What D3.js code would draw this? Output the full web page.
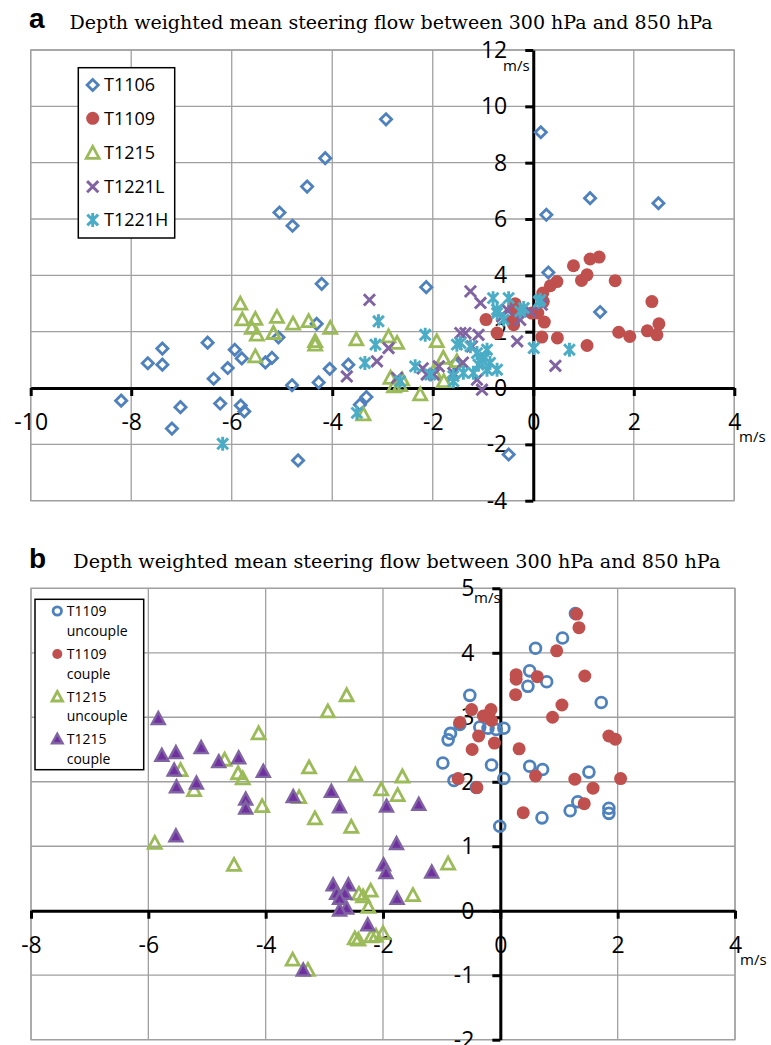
<!DOCTYPE html>
<html><head><meta charset="utf-8">
<script src="https://cdn.jsdelivr.net/npm/d3@7"></script>
<style>body{margin:0;background:#fff}svg{display:block}</style>
</head><body>
<svg id="chart" width="771" height="1045"></svg>
<script>
// ---- Panel a: steering flow (u, v) in m/s ----
const t1106 = [[-2.93,9.54],[-4.14,8.16],[-4.50,7.15],[-5.05,6.23],[-4.79,5.76],[0.15,9.08],[0.26,6.15],[1.13,6.74],[2.49,6.56],[0.30,4.10],[1.33,2.70],[-2.13,3.58],[-4.21,3.70],[-7.38,1.40],[-7.67,0.88],[-7.38,0.83],[-6.48,1.61],[-5.94,1.36],[-5.80,1.05],[-6.08,0.71],[-6.36,0.33],[-5.07,1.80],[-5.33,0.91],[-5.20,1.07],[-4.80,0.10],[-8.20,-0.45],[-7.02,-0.68],[-7.19,-1.44],[-6.23,-0.55],[-5.82,-0.62],[-5.75,-0.83],[-4.68,-2.57],[-4.31,2.28],[-4.05,0.68],[-4.27,0.20],[-3.68,0.83],[-3.32,-0.32],[-3.45,-0.59],[-0.49,-2.36],[-1.55,0.85]];
const t1109 = [[0.80,4.34],[1.13,4.58],[1.31,4.65],[1.07,4.02],[0.96,3.82],[1.63,3.81],[0.47,3.78],[0.34,3.63],[0.19,3.37],[2.36,3.07],[2.50,2.28],[2.46,1.89],[2.27,2.03],[1.70,1.98],[1.92,1.83],[1.07,1.51],[0.48,1.78],[0.17,1.81],[0.22,2.34],[0.09,2.66],[-0.36,2.99],[-0.94,2.43],[-0.39,2.25],[-0.72,1.95],[0.20,3.07],[-0.32,2.66],[-0.42,2.37],[-0.03,2.66],[-0.39,2.90]];
const t1215 = [[-5.83,2.99],[-5.79,2.43],[-5.53,2.45],[-5.60,2.13],[-5.50,1.89],[-5.10,2.52],[-5.17,1.95],[-4.78,2.28],[-4.47,2.37],[-4.34,1.66],[-4.34,1.54],[-4.04,2.13],[-5.53,1.12],[-3.52,1.72],[-2.88,1.83],[-2.71,1.60],[-2.84,0.36],[-2.77,0.06],[-2.61,0.30],[-2.65,0.10],[-2.25,-0.23],[-3.38,-0.94],[-1.92,1.66],[-1.79,1.07],[-1.78,0.24],[-1.98,0.59],[-1.52,0.95]];
const t1221L = [[-3.26,3.13],[-1.25,3.43],[-1.05,3.02],[-2.88,1.42],[-3.11,0.95],[-3.71,0.41],[-2.71,0.36],[-1.98,0.48],[-1.88,0.77],[-1.45,1.95],[-1.02,-0.06],[-0.32,1.66],[0.44,0.79],[-0.52,2.78],[-1.09,1.89],[-1.22,1.48],[-2.12,0.48],[-1.59,0.53],[-1.12,0.30],[-0.06,2.72],[-0.62,2.54],[-0.26,2.42],[0.17,2.96],[-1.35,1.95],[-2.20,0.70],[-1.40,0.90]];
const t1221H = [[-3.08,2.37],[-3.14,1.54],[-3.35,0.89],[-2.15,1.89],[-2.35,0.77],[-2.65,0.24],[-1.59,0.24],[-3.51,-0.88],[-0.80,3.19],[-0.49,3.19],[0.01,1.42],[0.14,3.13],[-1.52,1.54],[0.72,1.36],[0.11,3.07],[-0.72,2.66],[-0.26,2.72],[-6.18,-1.98],[-0.72,2.78],[-0.19,2.84],[-0.59,2.43],[-1.45,1.60],[-1.25,1.48],[-1.12,1.24],[-0.92,1.36],[-1.02,1.01],[-0.86,0.89],[-0.92,0.65],[-0.72,0.65],[-1.19,0.54],[-1.39,0.54],[-1.59,0.42],[-2.05,0.48],[-0.96,1.07],[-1.09,0.83]];

// ---- Panel b: coupled / uncoupled periods ----
const t1109Uncouple = [[1.28,4.61],[1.06,4.23],[0.60,4.07],[0.50,3.72],[0.47,3.48],[0.79,3.55],[1.72,3.23],[-0.52,3.34],[-0.69,2.89],[-0.85,2.75],[-0.89,2.65],[-0.35,2.85],[-0.21,2.83],[-0.07,2.81],[0.06,2.83],[-0.98,2.29],[-0.15,2.26],[-0.79,2.02],[-0.41,1.91],[0.06,2.05],[0.50,2.24],[0.72,2.19],[1.51,2.15],[1.32,1.69],[1.19,1.55],[0.71,1.44],[1.85,1.59],[1.85,1.51],[-0.01,1.31]];
const t1109Couple = [[1.30,4.60],[1.34,4.39],[0.96,4.03],[0.27,3.66],[0.27,3.59],[0.63,3.63],[1.44,3.64],[0.26,3.35],[1.05,3.19],[0.89,3.00],[-0.49,3.12],[-0.69,2.92],[-0.29,3.02],[-0.16,3.12],[-0.15,2.95],[-0.37,2.71],[-0.10,2.60],[-0.48,2.50],[0.32,2.51],[1.85,2.71],[1.96,2.66],[-0.72,2.05],[-0.40,1.91],[0.60,2.09],[1.27,2.04],[1.58,1.90],[2.05,2.05],[1.43,1.66],[0.39,1.52]];
const t1215Uncouple = [[-2.62,3.34],[-2.94,3.09],[-4.12,2.75],[-4.70,2.34],[-5.45,2.18],[-4.47,2.13],[-4.39,2.05],[-5.22,1.87],[-3.26,2.22],[-2.47,2.11],[-1.67,2.08],[-2.03,1.88],[-1.75,1.79],[-4.06,1.62],[-3.43,1.76],[-3.16,1.43],[-2.54,1.30],[-5.89,1.05],[-4.54,0.71],[-2.41,0.26],[-2.21,0.31],[-2.34,0.22],[-2.25,0.06],[-2.48,-0.43],[-2.42,-0.45],[-2.20,-0.40],[-2.00,-0.35],[-2.12,-0.39],[-3.54,-0.76],[-3.28,-0.92],[-0.89,0.73],[-1.49,0.24]];
const t1215Couple = [[-5.83,2.98],[-5.77,2.41],[-5.53,2.45],[-5.56,2.18],[-5.52,1.92],[-5.10,2.53],[-5.18,1.98],[-4.80,2.31],[-4.46,2.37],[-4.04,2.16],[-4.34,1.73],[-4.34,1.59],[-3.53,1.77],[-2.88,1.85],[-2.74,1.61],[-1.94,1.62],[-1.39,1.65],[-5.53,1.16],[-1.77,1.04],[-1.99,0.71],[-1.95,0.59],[-1.17,0.60],[-1.76,0.19],[-2.85,0.40],[-2.59,0.40],[-2.79,0.27],[-2.65,0.27],[-2.74,0.19],[-2.62,0.04],[-2.74,0.01],[-2.26,-0.22],[-3.36,-0.92]];

// ---- Axis ticks ----
const aXTicks = [-10,-8,-6,-4,-2,0,2,4];
const aYTicks = [-4,-2,0,2,4,6,8,10,12];
const bXTicks = [-8,-6,-4,-2,0,2,4];
const bYTicks = [-2,-1,0,1,2,3,4,5];

const titleText = "Depth weighted mean steering flow between 300 hPa and 850 hPa";

const svg = d3.select("#chart");
const COL = {blue:"#4F81BD", red:"#C0504D", green:"#9BBB59", purple:"#8064A2",
             cyan:"#4BACC6", dpurple:"#7030A0", grid:"#A0A0A0"};
const SANS = "'Open Sans', 'Noto Sans', sans-serif";

// marker shapes centred on the origin
const shape = {
  diamond: r => `M0,${-r}L${r},0L0,${r}L${-r},0Z`,
  triangle: (w,h) => `M0,${-h*0.55}L${w/2},${h*0.45}L${-w/2},${h*0.45}Z`,
  cross: s => `M${-s},${-s}L${s},${s}M${-s},${s}L${s},${-s}`,
  star: s => `M${-s},${-s}L${s},${s}M${-s},${s}L${s},${-s}M0,${-s*1.3}L0,${s*1.3}`,
  circle: r => `M${r},0A${r},${r} 0 1,1 ${-r},0A${r},${r} 0 1,1 ${r},0Z`
};

function drawPanel(cfg){
  const g = svg.append("g");
  const x = d3.scaleLinear().domain(cfg.xDomain).range(cfg.xRange);
  const y = d3.scaleLinear().domain(cfg.yDomain).range(cfg.yRange);

  // gridlines
  g.append("g").selectAll("line").data(cfg.xTicks).join("line")
    .attr("x1", d => x(d)).attr("x2", d => x(d))
    .attr("y1", cfg.yRange[0]).attr("y2", cfg.yRange[1])
    .attr("stroke", COL.grid).attr("stroke-width", 1.3);
  g.append("g").selectAll("line").data(cfg.yTicks).join("line")
    .attr("x1", cfg.xRange[0]).attr("x2", cfg.xRange[1])
    .attr("y1", d => y(d)).attr("y2", d => y(d))
    .attr("stroke", COL.grid).attr("stroke-width", 1.3);
  g.append("rect")
    .attr("x", cfg.xRange[0]).attr("y", cfg.yRange[1])
    .attr("width", cfg.xRange[1]-cfg.xRange[0]).attr("height", cfg.yRange[0]-cfg.yRange[1])
    .attr("fill", "none").attr("stroke", COL.grid).attr("stroke-width", 1.3);

  // axes crossing at the origin
  const xAxis = d3.axisBottom(x).tickValues(cfg.xTicks).tickSize(8).tickSizeOuter(0)
    .tickPadding(18).tickFormat(d => String(d));
  const yAxis = d3.axisLeft(y).tickValues(cfg.yTicks).tickSize(8).tickSizeOuter(0)
    .tickPadding(18).tickFormat(d => String(d));
  [g.append("g").attr("transform", `translate(0,${y(0)})`).call(xAxis),
   g.append("g").attr("transform", `translate(${x(0)},0)`).call(yAxis)].forEach(ax => {
    ax.attr("font-family", SANS).attr("font-size", 23);
    ax.select(".domain").attr("stroke", "#000").attr("stroke-width", 3);
    ax.selectAll(".tick line").attr("stroke", "#000").attr("stroke-width", 3);
    ax.selectAll(".tick text").attr("fill", "#000");
  });

  // unit labels
  g.append("text").attr("x", cfg.yUnit[0]).attr("y", cfg.yUnit[1])
    .attr("font-family", SANS).attr("font-size", 15).text("m/s");
  g.append("text").attr("x", cfg.xUnit[0]).attr("y", cfg.xUnit[1])
    .attr("font-family", SANS).attr("font-size", 15).text("m/s");

  // series, drawn in order
  cfg.series.forEach(s => {
    g.append("g").selectAll("path").data(s.data).join("path")
      .attr("transform", d => `translate(${x(d[0])},${y(d[1])})`)
      .attr("d", s.path)
      .attr("fill", s.fill).attr("stroke", s.stroke)
      .attr("stroke-width", s.sw).attr("stroke-linejoin", "miter");
  });

  // titles
  svg.append("text").attr("x", cfg.letter[0]).attr("y", cfg.letter[1])
    .attr("font-family", "'Liberation Sans', Arial, sans-serif").attr("font-weight", "bold")
    .attr("font-size", 28).text(cfg.letterText);
  svg.append("text").attr("x", cfg.title[0]).attr("y", cfg.title[1])
    .attr("font-family", "'DejaVu Serif', serif").attr("font-size", 19)
    .attr("textLength", cfg.title[2]).attr("lengthAdjust", "spacingAndGlyphs")
    .text(titleText);

  // legend
  const L = cfg.legend;
  const lg = svg.append("g");
  lg.append("rect").attr("x", L.box[0]).attr("y", L.box[1]).attr("width", L.box[2]).attr("height", L.box[3])
    .attr("fill", "#fff").attr("stroke", "#000").attr("stroke-width", 1.5);
  L.items.forEach((it, i) => {
    const s = cfg.series[i];
    const cy = L.rows[i];
    lg.append("path").attr("transform", `translate(${L.mx},${cy})`)
      .attr("d", it.path || s.path).attr("fill", s.fill).attr("stroke", s.stroke).attr("stroke-width", s.sw);
    it.lines.forEach((t, j) => {
      lg.append("text").attr("x", L.tx).attr("y", cy + j*L.lineGap).attr("dy", "0.35em")
        .attr("font-family", SANS).attr("font-size", L.fs).text(t);
    });
  });
}

drawPanel({
  xDomain:[-10,4], xRange:[30.7,734.3], yDomain:[-4,12], yRange:[500.7,50],
  xTicks:aXTicks, yTicks:aYTicks,
  yUnit:[503,71], xUnit:[739,442],
  letter:[29,28], letterText:"a", title:[69.5,29,643],
  series:[
    {data:t1106, path:shape.diamond(5.6), fill:"none", stroke:COL.blue, sw:2.8},
    {data:t1109, path:shape.circle(6.5), fill:COL.red, stroke:"none", sw:0},
    {data:t1215, path:shape.triangle(13,12), fill:"none", stroke:COL.green, sw:2.8},
    {data:t1221L, path:shape.cross(5.6), fill:"none", stroke:COL.purple, sw:2.9},
    {data:t1221H, path:shape.star(5.4), fill:"none", stroke:COL.cyan, sw:2.9}
  ],
  legend:{box:[78.3,67.7,96.4,170.3], mx:92.7, tx:104, fs:18, lineGap:0,
    rows:[85,118.3,153,186.7,220],
    items:[{lines:["T1106"]},{lines:["T1109"]},{lines:["T1215"]},{lines:["T1221L"]},{lines:["T1221H"]}]}
});

drawPanel({
  xDomain:[-8,4], xRange:[31,735], yDomain:[-2,5], yRange:[1039.7,588.3],
  xTicks:bXTicks, yTicks:bYTicks,
  yUnit:[474,603], xUnit:[740,965],
  letter:[29,568], letterText:"b", title:[73.3,568,647],
  series:[
    {data:t1109Uncouple, path:shape.circle(5.4), fill:"none", stroke:COL.blue, sw:2.8},
    {data:t1109Couple, path:shape.circle(6.5), fill:COL.red, stroke:"none", sw:0},
    {data:t1215Uncouple, path:shape.triangle(13,12), fill:"none", stroke:COL.green, sw:2.8},
    {data:t1215Couple, path:shape.triangle(13,12), fill:COL.dpurple, stroke:COL.purple, sw:2.4}
  ],
  legend:{box:[35,599.3,108.7,170.4], mx:57.3, tx:66.7, fs:14, lineGap:19.7,
    rows:[611,654,696.7,739],
    items:[
      {lines:["T1109","uncouple"], path:shape.circle(4.2)},
      {lines:["T1109","couple"], path:shape.circle(5)},
      {lines:["T1215","uncouple"], path:shape.triangle(10.5,9.5)},
      {lines:["T1215","couple"], path:shape.triangle(10.5,9.5)}
    ]}
});
</script>
</body></html>
